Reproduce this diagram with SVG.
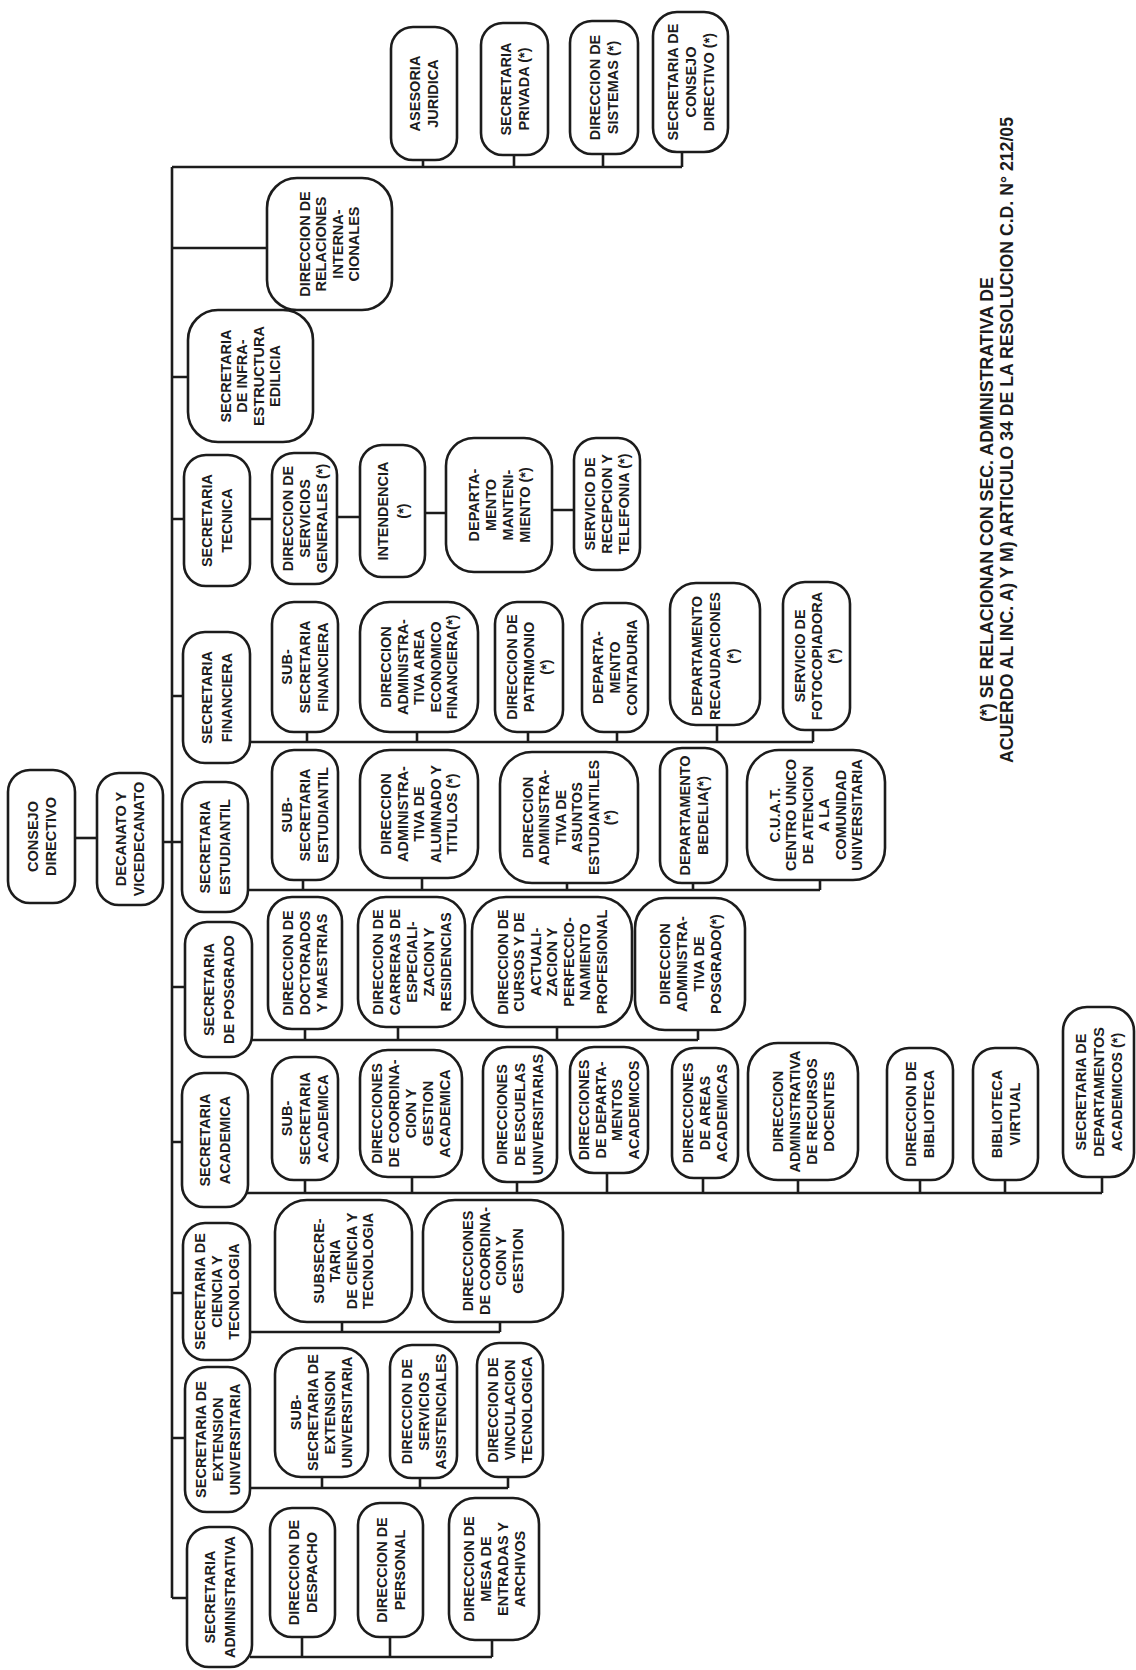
<svg xmlns="http://www.w3.org/2000/svg" width="1136" height="1670" viewBox="0 0 1136 1670">
<style>
.box{fill:#fff;stroke:#1c1c1c;stroke-width:2.6}
.t{font-family:"Liberation Sans",Arial,sans-serif;font-weight:bold;font-size:14.5px;fill:#1c1c1c;text-anchor:middle}
.c{stroke:#1c1c1c;stroke-width:2.6;fill:none}
.fn{font-family:"Liberation Sans",Arial,sans-serif;font-weight:bold;font-size:17.5px;fill:#1c1c1c}
</style>
<rect width="1136" height="1670" fill="#fff"/>
<g id="connectors">
<path class="c" d="M172,167 H682 M423,160 V167 M514,155 V167 M603,154 V167 M682,152 V167"/>
<path class="c" d="M172,167 V1598"/>
<path class="c" d="M172,248 H267 M172,377 H188 M172,519 H184 M172,696 H183 M163,842 H182 M172,987 H185 M172,1142 H182 M172,1293 H183 M172,1438 H185 M172,1598 H187"/>
<path class="c" d="M75,838 H97"/>
<path class="c" d="M250,519 H272 M337,517 H360 M425,513 H446 M552,510 H574"/>
<path class="c" d="M248,742 H813 M307,732 V742 M417,732 V742 M528,732 V742 M617,732 V742 M717,725 V742 M813,730 V742"/>
<path class="c" d="M246,890 H820 M303,880 V890 M422,878 V890 M567,883 V890 M693,883 V890 M820,880 V890"/>
<path class="c" d="M250,1040 H698 M305,1029 V1040 M398,1027 V1040 M557,1027 V1040 M698,1030 V1040"/>
<path class="c" d="M246,1193 H1102 M305,1180 V1193 M412,1177 V1193 M517,1182 V1193 M607,1173 V1193 M703,1178 V1193 M798,1180 V1193 M920,1180 V1193 M1005,1180 V1193 M1102,1177 V1193"/>
<path class="c" d="M248,1332 H500 M342,1322 V1332 M500,1322 V1332"/>
<path class="c" d="M248,1488 H508 M322,1477 V1488 M420,1478 V1488 M508,1477 V1488"/>
<path class="c" d="M250,1657 H492 M302,1637 V1657 M390,1637 V1657 M492,1640 V1657"/>
</g>

<g id="asesoria-juridica"><rect class="box" x="391" y="27" width="66" height="133" rx="22"/><text class="t" transform="translate(424,93.5) rotate(-90)"><tspan x="0" y="-4">ASESORIA</tspan><tspan x="0" y="14">JURIDICA</tspan></text></g>
<g id="secretaria-privada"><rect class="box" x="481" y="23" width="67" height="132" rx="22"/><text class="t" transform="translate(514.5,89) rotate(-90)"><tspan x="0" y="-4">SECRETARIA</tspan><tspan x="0" y="14">PRIVADA (*)</tspan></text></g>
<g id="direccion-sistemas"><rect class="box" x="570" y="21" width="68" height="133" rx="22"/><text class="t" transform="translate(604,87.5) rotate(-90)"><tspan x="0" y="-4">DIRECCION DE</tspan><tspan x="0" y="14">SISTEMAS (*)</tspan></text></g>
<g id="secretaria-consejo"><rect class="box" x="653" y="12" width="75" height="140" rx="24"/><text class="t" transform="translate(690.5,82) rotate(-90)"><tspan x="0" y="-13">SECRETARIA DE</tspan><tspan x="0" y="5">CONSEJO</tspan><tspan x="0" y="23">DIRECTIVO (*)</tspan></text></g>

<g id="relaciones-internacionales"><rect class="box" x="267" y="178" width="125" height="132" rx="30"/><text class="t" transform="translate(329.5,244) rotate(-90)"><tspan x="0" y="-19.75">DIRECCION DE</tspan><tspan x="0" y="-3.25">RELACIONES</tspan><tspan x="0" y="13.25">INTERNA-</tspan><tspan x="0" y="29.75">CIONALES</tspan></text></g>
<g id="infraestructura"><rect class="box" x="188" y="310" width="125" height="132" rx="30"/><text class="t" transform="translate(250.5,376) rotate(-90)"><tspan x="0" y="-19.75">SECRETARIA</tspan><tspan x="0" y="-3.25">DE INFRA-</tspan><tspan x="0" y="13.25">ESTRUCTURA</tspan><tspan x="0" y="29.75">EDILICIA</tspan></text></g>

<g id="secretaria-tecnica"><rect class="box" x="184" y="455" width="66" height="131" rx="22"/><text class="t" transform="translate(217,520.5) rotate(-90)"><tspan x="0" y="-5">SECRETARIA</tspan><tspan x="0" y="15">TECNICA</tspan></text></g>
<g id="servicios-generales"><rect class="box" x="272" y="453" width="65" height="131" rx="22"/><text class="t" transform="translate(304.5,518.5) rotate(-90)"><tspan x="0" y="-12">DIRECCION DE</tspan><tspan x="0" y="5">SERVICIOS</tspan><tspan x="0" y="22">GENERALES (*)</tspan></text></g>
<g id="intendencia"><rect class="box" x="360" y="445" width="65" height="132" rx="22"/><text class="t" transform="translate(392.5,511) rotate(-90)"><tspan x="0" y="-5">INTENDENCIA</tspan><tspan x="0" y="15">(*)</tspan></text></g>
<g id="mantenimiento"><rect class="box" x="446" y="438" width="106" height="134" rx="28"/><text class="t" transform="translate(499,505) rotate(-90)"><tspan x="0" y="-20.5">DEPARTA-</tspan><tspan x="0" y="-3.5">MENTO</tspan><tspan x="0" y="13.5">MANTENI-</tspan><tspan x="0" y="30.5">MIENTO (*)</tspan></text></g>
<g id="recepcion-telefonia"><rect class="box" x="574" y="438" width="66" height="132" rx="22"/><text class="t" transform="translate(607,504) rotate(-90)"><tspan x="0" y="-12">SERVICIO DE</tspan><tspan x="0" y="5">RECEPCION Y</tspan><tspan x="0" y="22">TELEFONIA (*)</tspan></text></g>

<g id="secretaria-financiera"><rect class="box" x="183" y="632" width="67" height="131" rx="22"/><text class="t" transform="translate(216.5,697.5) rotate(-90)"><tspan x="0" y="-5">SECRETARIA</tspan><tspan x="0" y="15">FINANCIERA</tspan></text></g>
<g id="subsecretaria-financiera"><rect class="box" x="272" y="602" width="66" height="130" rx="22"/><text class="t" transform="translate(305,667) rotate(-90)"><tspan x="0" y="-13">SUB-</tspan><tspan x="0" y="5">SECRETARIA</tspan><tspan x="0" y="23">FINANCIERA</tspan></text></g>
<g id="dir-adm-economico"><rect class="box" x="360" y="602" width="118" height="130" rx="30"/><text class="t" transform="translate(419,667) rotate(-90)"><tspan x="0" y="-28">DIRECCION</tspan><tspan x="0" y="-11.5">ADMINISTRA-</tspan><tspan x="0" y="5">TIVA AREA</tspan><tspan x="0" y="21.5">ECONOMICO</tspan><tspan x="0" y="38">FINANCIERA(*)</tspan></text></g>
<g id="patrimonio"><rect class="box" x="495" y="602" width="68" height="130" rx="22"/><text class="t" transform="translate(529,667) rotate(-90)"><tspan x="0" y="-12">DIRECCION DE</tspan><tspan x="0" y="5">PATRIMONIO</tspan><tspan x="0" y="22">(*)</tspan></text></g>
<g id="contaduria"><rect class="box" x="582" y="603" width="66" height="129" rx="22"/><text class="t" transform="translate(615,667.5) rotate(-90)"><tspan x="0" y="-12">DEPARTA-</tspan><tspan x="0" y="5">MENTO</tspan><tspan x="0" y="22">CONTADURIA</tspan></text></g>
<g id="recaudaciones"><rect class="box" x="670" y="583" width="90" height="142" rx="26"/><text class="t" transform="translate(715,656) rotate(-90)"><tspan x="0" y="-13">DEPARTAMENTO</tspan><tspan x="0" y="5">RECAUDACIONES</tspan><tspan x="0" y="23">(*)</tspan></text></g>
<g id="fotocopiadora"><rect class="box" x="783" y="582" width="67" height="148" rx="22"/><text class="t" transform="translate(816.5,656) rotate(-90)"><tspan x="0" y="-12">SERVICIO DE</tspan><tspan x="0" y="5">FOTOCOPIADORA</tspan><tspan x="0" y="22">(*)</tspan></text></g>

<g id="consejo-directivo"><rect class="box" x="8" y="770" width="67" height="133" rx="22"/><text class="t" transform="translate(41.5,836.5) rotate(-90)"><tspan x="0" y="-4">CONSEJO</tspan><tspan x="0" y="14">DIRECTIVO</tspan></text></g>
<g id="decanato"><rect class="box" x="97" y="773" width="66" height="132" rx="22"/><text class="t" transform="translate(130,839) rotate(-90)"><tspan x="0" y="-4">DECANATO Y</tspan><tspan x="0" y="14">VICEDECANATO</tspan></text></g>

<g id="secretaria-estudiantil"><rect class="box" x="182" y="782" width="66" height="130" rx="22"/><text class="t" transform="translate(215,847) rotate(-90)"><tspan x="0" y="-5">SECRETARIA</tspan><tspan x="0" y="15">ESTUDIANTIL</tspan></text></g>
<g id="subsecretaria-estudiantil"><rect class="box" x="272" y="750" width="66" height="130" rx="22"/><text class="t" transform="translate(305,815) rotate(-90)"><tspan x="0" y="-13">SUB-</tspan><tspan x="0" y="5">SECRETARIA</tspan><tspan x="0" y="23">ESTUDIANTIL</tspan></text></g>
<g id="dir-alumnado"><rect class="box" x="360" y="750" width="118" height="128" rx="30"/><text class="t" transform="translate(419,814) rotate(-90)"><tspan x="0" y="-28">DIRECCION</tspan><tspan x="0" y="-11.5">ADMINISTRA-</tspan><tspan x="0" y="5">TIVA DE</tspan><tspan x="0" y="21.5">ALUMNADO Y</tspan><tspan x="0" y="38">TITULOS (*)</tspan></text></g>
<g id="dir-asuntos"><rect class="box" x="500" y="752" width="138" height="131" rx="32"/><text class="t" transform="translate(569,817.5) rotate(-90)"><tspan x="0" y="-36.25">DIRECCION</tspan><tspan x="0" y="-19.75">ADMINISTRA-</tspan><tspan x="0" y="-3.25">TIVA DE</tspan><tspan x="0" y="13.25">ASUNTOS</tspan><tspan x="0" y="29.75">ESTUDIANTILES</tspan><tspan x="0" y="46.25">(*)</tspan></text></g>
<g id="bedelia"><rect class="box" x="660" y="748" width="67" height="135" rx="22"/><text class="t" transform="translate(693.5,815.5) rotate(-90)"><tspan x="0" y="-4">DEPARTAMENTO</tspan><tspan x="0" y="14">BEDELIA(*)</tspan></text></g>
<g id="cuat"><rect class="box" x="747" y="750" width="138" height="130" rx="32"/><text class="t" transform="translate(816,815) rotate(-90)"><tspan x="0" y="-36.25">C.U.A.T.</tspan><tspan x="0" y="-19.75">CENTRO UNICO</tspan><tspan x="0" y="-3.25">DE ATENCION</tspan><tspan x="0" y="13.25">A LA</tspan><tspan x="0" y="29.75">COMUNIDAD</tspan><tspan x="0" y="46.25">UNIVERSITARIA</tspan></text></g>

<g id="secretaria-posgrado"><rect class="box" x="185" y="922" width="67" height="135" rx="22"/><text class="t" transform="translate(218.5,989.5) rotate(-90)"><tspan x="0" y="-5">SECRETARIA</tspan><tspan x="0" y="15">DE POSGRADO</tspan></text></g>
<g id="doctorados"><rect class="box" x="268" y="897" width="74" height="132" rx="24"/><text class="t" transform="translate(305,963) rotate(-90)"><tspan x="0" y="-12">DIRECCION DE</tspan><tspan x="0" y="5">DOCTORADOS</tspan><tspan x="0" y="22">Y MAESTRIAS</tspan></text></g>
<g id="carreras"><rect class="box" x="358" y="897" width="107" height="130" rx="28"/><text class="t" transform="translate(411.5,962) rotate(-90)"><tspan x="0" y="-29">DIRECCION DE</tspan><tspan x="0" y="-12">CARRERAS DE</tspan><tspan x="0" y="5">ESPECIALI-</tspan><tspan x="0" y="22">ZACION Y</tspan><tspan x="0" y="39">RESIDENCIAS</tspan></text></g>
<g id="cursos"><rect class="box" x="472" y="897" width="160" height="130" rx="34"/><text class="t" transform="translate(552,962) rotate(-90)"><tspan x="0" y="-44.5">DIRECCION DE</tspan><tspan x="0" y="-28">CURSOS Y DE</tspan><tspan x="0" y="-11.5">ACTUALI-</tspan><tspan x="0" y="5">ZACION Y</tspan><tspan x="0" y="21.5">PERFECCIO-</tspan><tspan x="0" y="38">NAMIENTO</tspan><tspan x="0" y="54.5">PROFESIONAL</tspan></text></g>
<g id="dir-adm-posgrado"><rect class="box" x="635" y="898" width="110" height="132" rx="30"/><text class="t" transform="translate(690,964) rotate(-90)"><tspan x="0" y="-20.5">DIRECCION</tspan><tspan x="0" y="-3.5">ADMINISTRA-</tspan><tspan x="0" y="13.5">TIVA DE</tspan><tspan x="0" y="30.5">POSGRADO(*)</tspan></text></g>

<g id="secretaria-academica"><rect class="box" x="182" y="1073" width="66" height="134" rx="22"/><text class="t" transform="translate(215,1140) rotate(-90)"><tspan x="0" y="-5">SECRETARIA</tspan><tspan x="0" y="15">ACADEMICA</tspan></text></g>
<g id="subsecretaria-academica"><rect class="box" x="272" y="1057" width="66" height="123" rx="22"/><text class="t" transform="translate(305,1118.5) rotate(-90)"><tspan x="0" y="-13">SUB-</tspan><tspan x="0" y="5">SECRETARIA</tspan><tspan x="0" y="23">ACADEMICA</tspan></text></g>
<g id="coordinacion-academica"><rect class="box" x="360" y="1050" width="102" height="127" rx="28"/><text class="t" transform="translate(411,1113.5) rotate(-90)"><tspan x="0" y="-29">DIRECCIONES</tspan><tspan x="0" y="-12">DE COORDINA-</tspan><tspan x="0" y="5">CION Y</tspan><tspan x="0" y="22">GESTION</tspan><tspan x="0" y="39">ACADEMICA</tspan></text></g>
<g id="escuelas"><rect class="box" x="483" y="1047" width="74" height="135" rx="24"/><text class="t" transform="translate(520,1114.5) rotate(-90)"><tspan x="0" y="-13">DIRECCIONES</tspan><tspan x="0" y="5">DE ESCUELAS</tspan><tspan x="0" y="23">UNIVERSITARIAS</tspan></text></g>
<g id="departamentos"><rect class="box" x="570" y="1047" width="78" height="126" rx="24"/><text class="t" transform="translate(609,1110) rotate(-90)"><tspan x="0" y="-19.75">DIRECCIONES</tspan><tspan x="0" y="-3.25">DE DEPARTA-</tspan><tspan x="0" y="13.25">MENTOS</tspan><tspan x="0" y="29.75">ACADEMICOS</tspan></text></g>
<g id="areas"><rect class="box" x="672" y="1048" width="66" height="130" rx="22"/><text class="t" transform="translate(705,1113) rotate(-90)"><tspan x="0" y="-12">DIRECCIONES</tspan><tspan x="0" y="5">DE AREAS</tspan><tspan x="0" y="22">ACADEMICAS</tspan></text></g>
<g id="recursos-docentes"><rect class="box" x="748" y="1043" width="110" height="137" rx="30"/><text class="t" transform="translate(803,1111.5) rotate(-90)"><tspan x="0" y="-20.5">DIRECCION</tspan><tspan x="0" y="-3.5">ADMINISTRATIVA</tspan><tspan x="0" y="13.5">DE RECURSOS</tspan><tspan x="0" y="30.5">DOCENTES</tspan></text></g>
<g id="biblioteca"><rect class="box" x="887" y="1048" width="66" height="132" rx="22"/><text class="t" transform="translate(920,1114) rotate(-90)"><tspan x="0" y="-4">DIRECCION DE</tspan><tspan x="0" y="14">BIBLIOTECA</tspan></text></g>
<g id="biblioteca-virtual"><rect class="box" x="973" y="1048" width="65" height="132" rx="22"/><text class="t" transform="translate(1005.5,1114) rotate(-90)"><tspan x="0" y="-4">BIBLIOTECA</tspan><tspan x="0" y="14">VIRTUAL</tspan></text></g>
<g id="secretaria-departamentos"><rect class="box" x="1063" y="1007" width="71" height="170" rx="24"/><text class="t" transform="translate(1098.5,1092) rotate(-90)"><tspan x="0" y="-13">SECRETARIA DE</tspan><tspan x="0" y="5">DEPARTAMENTOS</tspan><tspan x="0" y="23">ACADEMICOS (*)</tspan></text></g>

<g id="secretaria-ciencia"><rect class="box" x="183" y="1223" width="67" height="137" rx="22"/><text class="t" transform="translate(216.5,1291.5) rotate(-90)"><tspan x="0" y="-12">SECRETARIA DE</tspan><tspan x="0" y="5">CIENCIA Y</tspan><tspan x="0" y="22">TECNOLOGIA</tspan></text></g>
<g id="subsecretaria-ciencia"><rect class="box" x="275" y="1200" width="137" height="122" rx="32"/><text class="t" transform="translate(343.5,1261) rotate(-90)"><tspan x="0" y="-19.75">SUBSECRE-</tspan><tspan x="0" y="-3.25">TARIA</tspan><tspan x="0" y="13.25">DE CIENCIA Y</tspan><tspan x="0" y="29.75">TECNOLOGIA</tspan></text></g>
<g id="coordinacion-gestion"><rect class="box" x="423" y="1200" width="140" height="122" rx="32"/><text class="t" transform="translate(493,1261) rotate(-90)"><tspan x="0" y="-19.75">DIRECCIONES</tspan><tspan x="0" y="-3.25">DE COORDINA-</tspan><tspan x="0" y="13.25">CION Y</tspan><tspan x="0" y="29.75">GESTION</tspan></text></g>

<g id="secretaria-extension"><rect class="box" x="185" y="1367" width="65" height="145" rx="22"/><text class="t" transform="translate(217.5,1439.5) rotate(-90)"><tspan x="0" y="-12">SECRETARIA DE</tspan><tspan x="0" y="5">EXTENSION</tspan><tspan x="0" y="22">UNIVERSITARIA</tspan></text></g>
<g id="subsecretaria-extension"><rect class="box" x="275" y="1348" width="93" height="129" rx="26"/><text class="t" transform="translate(321.5,1412.5) rotate(-90)"><tspan x="0" y="-20.5">SUB-</tspan><tspan x="0" y="-3.5">SECRETARIA DE</tspan><tspan x="0" y="13.5">EXTENSION</tspan><tspan x="0" y="30.5">UNIVERSITARIA</tspan></text></g>
<g id="servicios-asistenciales"><rect class="box" x="390" y="1345" width="67" height="133" rx="22"/><text class="t" transform="translate(423.5,1411.5) rotate(-90)"><tspan x="0" y="-12">DIRECCION DE</tspan><tspan x="0" y="5">SERVICIOS</tspan><tspan x="0" y="22">ASISTENCIALES</tspan></text></g>
<g id="vinculacion"><rect class="box" x="477" y="1343" width="66" height="134" rx="22"/><text class="t" transform="translate(510,1410) rotate(-90)"><tspan x="0" y="-12">DIRECCION DE</tspan><tspan x="0" y="5">VINCULACION</tspan><tspan x="0" y="22">TECNOLOGICA</tspan></text></g>

<g id="secretaria-administrativa"><rect class="box" x="187" y="1527" width="65" height="140" rx="22"/><text class="t" transform="translate(219.5,1597) rotate(-90)"><tspan x="0" y="-5">SECRETARIA</tspan><tspan x="0" y="15">ADMINISTRATIVA</tspan></text></g>
<g id="despacho"><rect class="box" x="270" y="1508" width="65" height="129" rx="22"/><text class="t" transform="translate(302.5,1572.5) rotate(-90)"><tspan x="0" y="-4">DIRECCION DE</tspan><tspan x="0" y="14">DESPACHO</tspan></text></g>
<g id="personal"><rect class="box" x="358" y="1503" width="65" height="134" rx="22"/><text class="t" transform="translate(390.5,1570) rotate(-90)"><tspan x="0" y="-4">DIRECCION DE</tspan><tspan x="0" y="14">PERSONAL</tspan></text></g>
<g id="mesa-entradas"><rect class="box" x="449" y="1498" width="90" height="142" rx="26"/><text class="t" transform="translate(494,1569) rotate(-90)"><tspan x="0" y="-20.5">DIRECCION DE</tspan><tspan x="0" y="-3.5">MESA DE</tspan><tspan x="0" y="13.5">ENTRADAS Y</tspan><tspan x="0" y="30.5">ARCHIVOS</tspan></text></g>

<g id="nota">
<text class="fn" transform="translate(993,722) rotate(-90)" textLength="445" lengthAdjust="spacingAndGlyphs">(*) SE RELACIONAN CON SEC. ADMINISTRATIVA DE</text>
<text class="fn" transform="translate(1013,763) rotate(-90)" textLength="646" lengthAdjust="spacingAndGlyphs">ACUERDO AL INC. A) Y M) ARTICULO 34 DE LA RESOLUCION C.D. N° 212/05</text>
</g>
</svg>
